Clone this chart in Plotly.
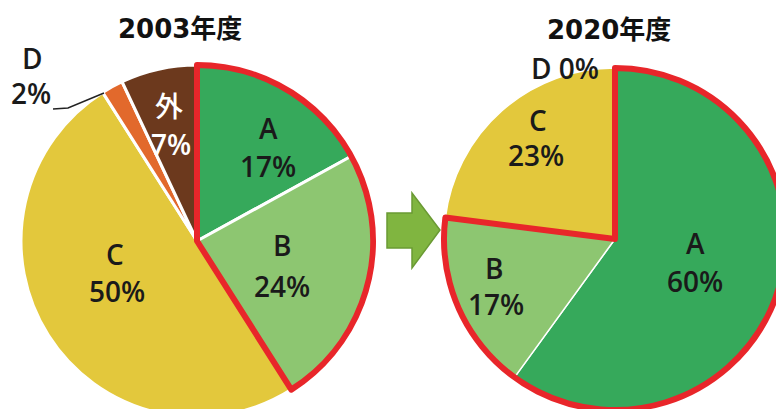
import plotly.graph_objects as go

# ---- data ----
categories_2003 = ["A", "B", "C", "D", "外"]
values_2003 = [17, 24, 50, 2, 7]
categories_2020 = ["A", "B", "C", "D"]
values_2020 = [60, 17, 23, 0]
highlight = ["A", "B"]  # categories outlined in red
titles = ["2003年度", "2020年度"]

W, H = 784, 440
OFF = 8  # page body margin
FONT = "Open Sans, Noto Sans CJK JP"
TFONT = "DejaVu Sans, Noto Sans CJK JP"
RED = "#E8262A"
colors = {"A": "#36A95B", "B": "#8DC671", "C": "#E3C83C", "D": "#E2692C", "外": "#6C391D"}


def px_x(x):
    return (x - OFF) / W


def px_y(y):
    return 1 - (y - OFF) / H


def dom(cx, cy, r):
    return dict(x=[px_x(cx - r), px_x(cx + r)], y=[px_y(cy + r), px_y(cy - r)])


fig = go.Figure()


def add_pie(cats, vals, d, line_w):
    fig.add_trace(go.Pie(
        labels=cats, values=vals, sort=False, direction="clockwise", rotation=0,
        marker=dict(colors=[colors[c] for c in cats], line=dict(color="white", width=line_w)),
        textinfo="none", domain=d, hoverinfo="label+value", showlegend=False,
    ))
    hv = sum(v for c, v in zip(cats, vals) if c in highlight)
    fig.add_trace(go.Pie(
        labels=["hl", "rest"], values=[hv, sum(vals) - hv], sort=False,
        direction="clockwise", rotation=0,
        marker=dict(colors=["rgba(0,0,0,0)", "rgba(0,0,0,0)"],
                    line=dict(color=[RED, "rgba(0,0,0,0)"], width=6)),
        textinfo="none", hoverinfo="skip", domain=d, showlegend=False,
    ))


add_pie(categories_2003, values_2003, dom(197, 241, 176), 3)
add_pie(categories_2020, values_2020, dom(615, 239, 171), 1.5)

ann = []


def label(text, x, y, size=28, color="#1a1a1a", weight=600, family=FONT):
    ann.append(dict(text=text, x=px_x(x), y=px_y(y),
                    xref="paper", yref="paper", xanchor="center", yanchor="middle",
                    showarrow=False,
                    font=dict(family=family, size=size, color=color, weight=weight)))


for t, (x, y) in zip(titles, [(180, 29), (609, 30)]):
    label(t, x, y, size=26, color="#111", weight=700, family=TFONT)

# 2003 slice labels (category line, value line)
pos_2003 = {"A": [(268, 128), (268, 166)], "B": [(282, 245), (282, 286)],
            "C": [(115, 254), (117, 291)], "D": [(32, 58), (31, 93)],
            "外": [(169, 106), (171, 144)]}
for c, v in zip(categories_2003, values_2003):
    col = "white" if c == "外" else "#1a1a1a"
    (x1, y1), (x2, y2) = pos_2003[c]
    label(c, x1, y1, color=col, weight=500 if c == "外" else 600)
    label(f"{v}%", x2, y2, color=col)

pos_2020 = {"A": [(695, 243), (695, 281)], "B": [(494, 268), (496, 304)],
            "C": [(538, 120), (536, 155)]}
for c, v in zip(categories_2020, values_2020):
    if c == "D":
        label(f"{c} {v}%", 565, 68)
        continue
    (x1, y1), (x2, y2) = pos_2020[c]
    label(c, x1, y1)
    label(f"{v}%", x2, y2)

shapes = [
    dict(type="path", xref="paper", yref="paper",
         path=f"M {px_x(53)} {px_y(109)} L {px_x(68)} {px_y(108)} L {px_x(104)} {px_y(93)}",
         line=dict(color="#222", width=1.5)),
    dict(type="path", xref="paper", yref="paper",
         path=(f"M {px_x(387)} {px_y(213)} L {px_x(412)} {px_y(213)} L {px_x(412)} {px_y(193)} "
               f"L {px_x(440)} {px_y(230)} L {px_x(412)} {px_y(268)} L {px_x(412)} {px_y(248)} "
               f"L {px_x(387)} {px_y(248)} Z"),
         fillcolor="#80B540", line=dict(color="#6A9A33", width=1.5)),
]

fig.update_layout(width=W, height=H, margin=dict(l=0, r=0, t=0, b=0),
                  paper_bgcolor="white", plot_bgcolor="white",
                  annotations=ann, shapes=shapes, showlegend=False,
                  font=dict(family=FONT))
fig.write_html("out.html")
